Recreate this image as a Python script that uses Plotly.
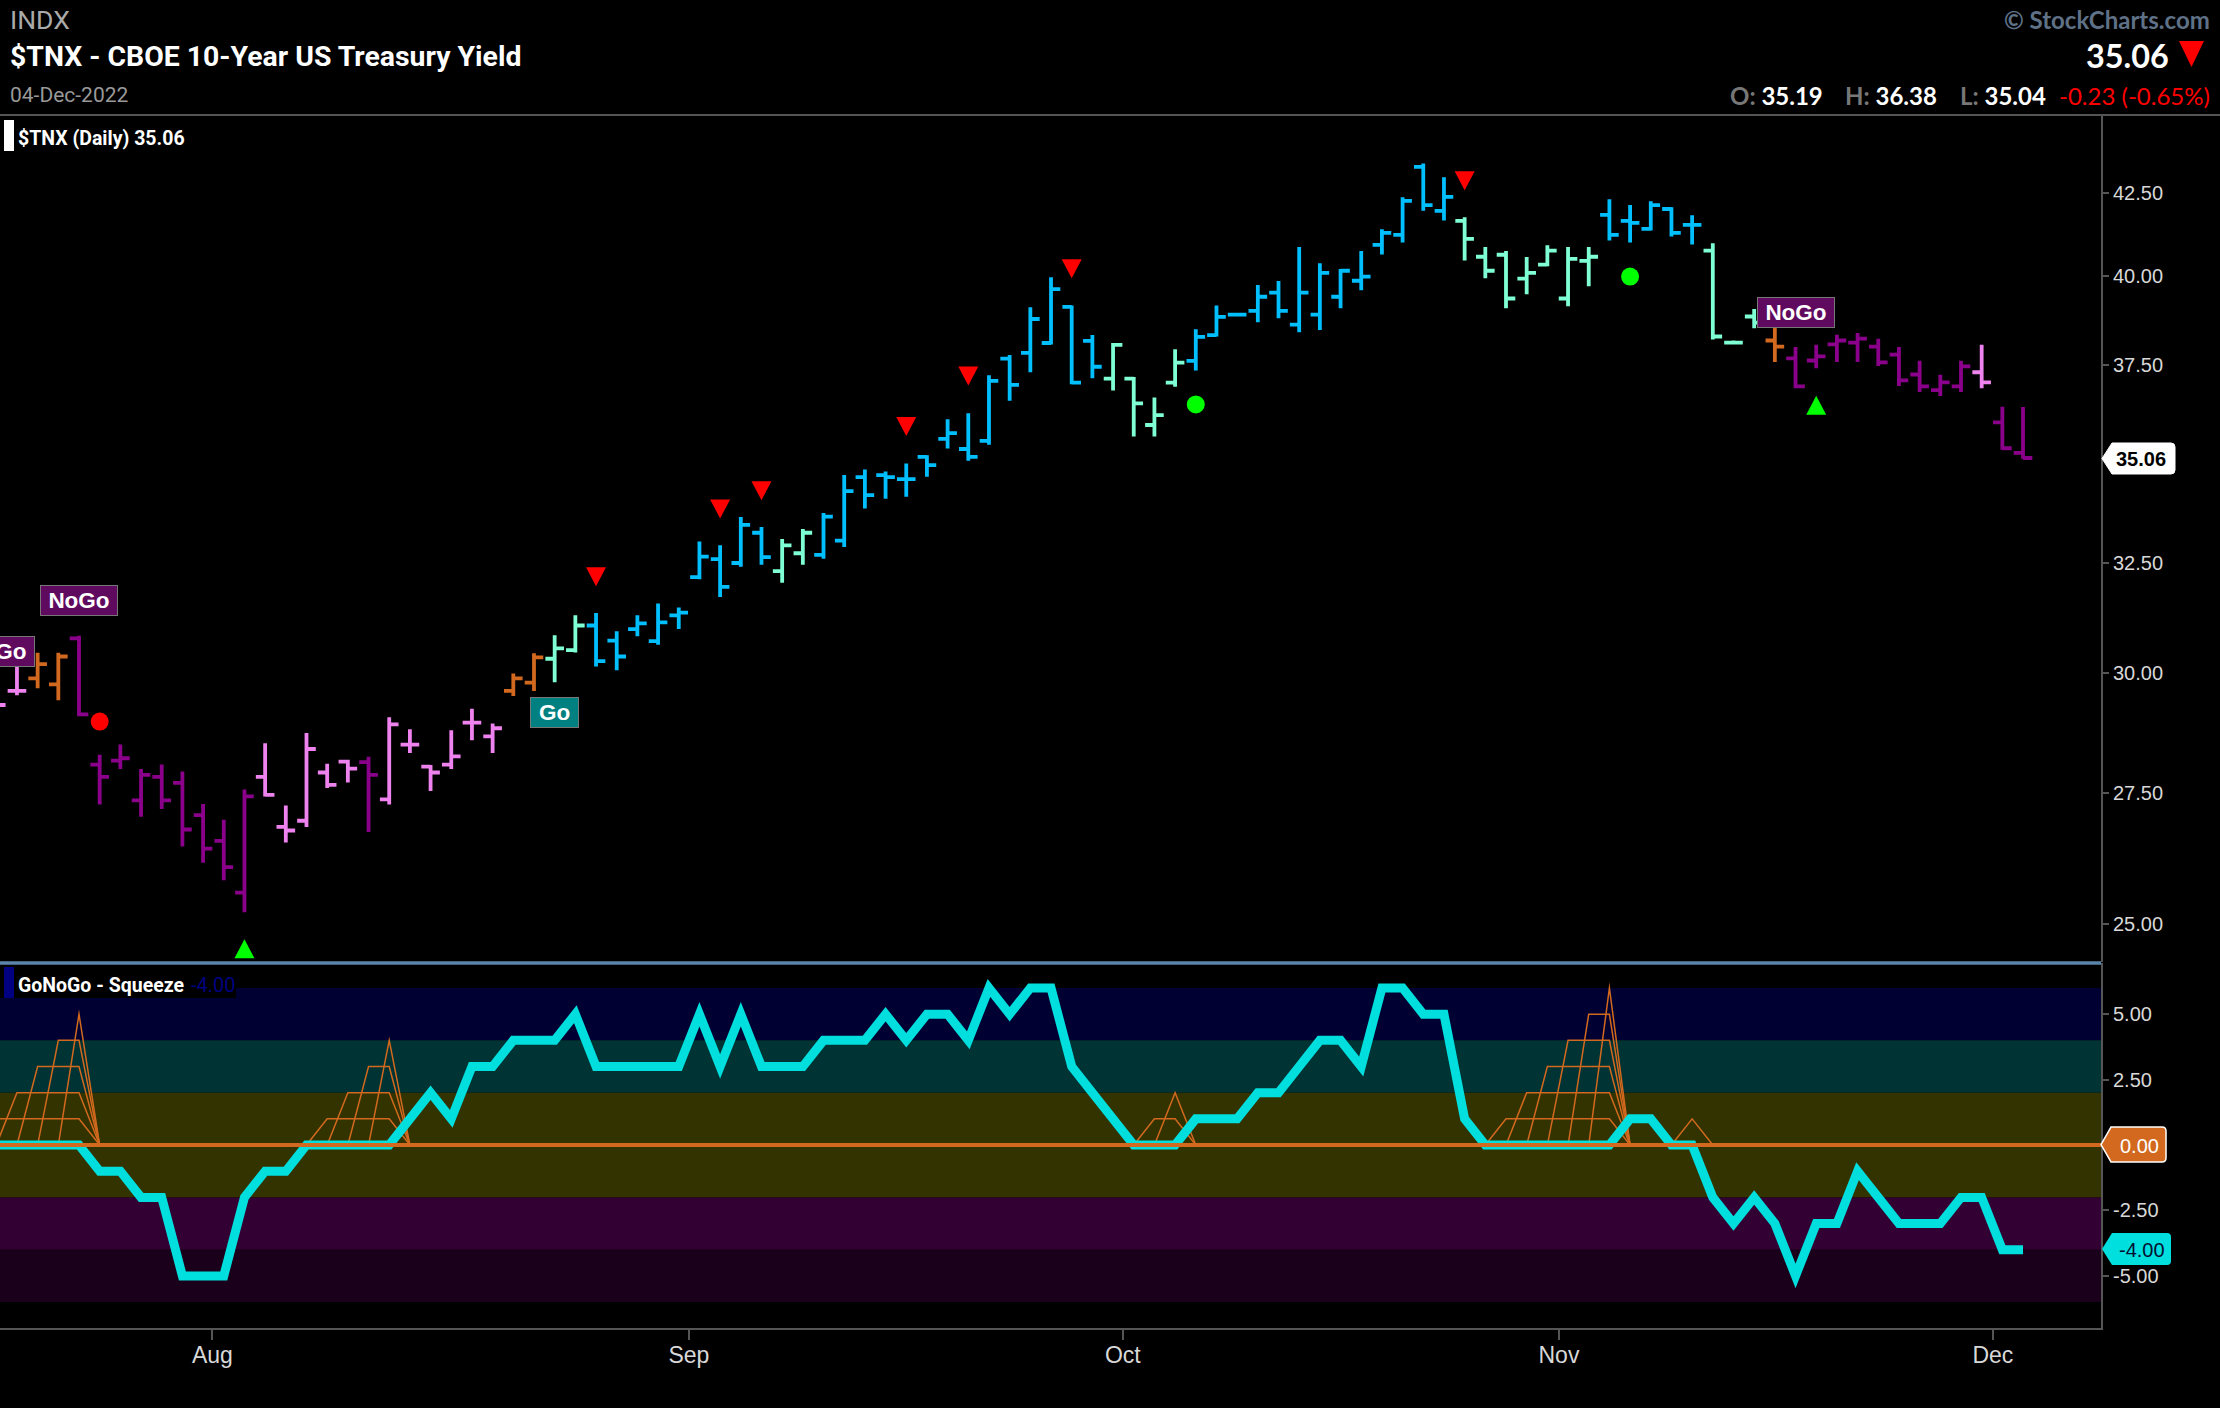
import math
import plotly.graph_objects as go

W = 2220
H = 1408

# daily bars (first bar is cut by the left edge)
bar_open = [29.57, 29.61, 29.88, 29.75, 30.76, 28.07, 28.15, 27.35, 27.82, 27.70,
            27.06, 26.56, 25.58, 27.82, 26.83, 26.95, 27.91, 28.13, 28.12, 27.37,
            28.48, 28.03, 28.07, 28.94, 28.65, 29.61, 29.79, 30.31, 30.50, 31.05,
            30.71, 30.97, 30.70, 31.28, 32.16, 32.58, 32.49, 33.21, 32.30, 32.72,
            32.68, 33.02, 34.58, 34.63, 34.53, 35.09, 35.55, 35.29, 35.50, 37.68,
            37.84, 38.11, 39.12, 38.17, 37.14, 37.14, 35.91, 37.03, 37.62, 38.33,
            38.90, 39.01, 39.53, 38.62, 38.90, 39.41, 39.87, 40.92, 41.22, 43.30,
            41.94, 41.64, 40.57, 40.63, 39.93, 40.34, 39.36, 40.45, 41.82, 41.64,
            41.40, 42.00, 41.52, 40.75, 38.12, 38.85, 38.18, 37.69, 37.63, 38.07,
            38.12, 38.01, 37.79, 37.25, 36.83, 36.93, 37.31, 35.98, 35.19]
bar_high = [29.87, 30.21, 30.44, 30.44, 30.82, 28.27, 28.48, 27.98, 28.07, 27.93,
            27.28, 26.97, 27.57, 28.51, 27.25, 28.72, 28.09, 28.17, 28.23, 29.05,
            28.80, 28.06, 28.78, 29.23, 28.92, 29.99, 30.43, 30.83, 31.28, 31.33,
            30.92, 31.28, 31.55, 31.46, 33.00, 32.91, 33.59, 33.35, 33.06, 33.30,
            33.69, 34.63, 34.77, 34.72, 34.92, 35.13, 36.06, 36.22, 37.23, 37.78,
            39.11, 39.97, 39.16, 38.33, 38.11, 37.18, 36.63, 37.94, 38.49, 39.16,
            38.95, 39.75, 39.86, 40.86, 40.38, 40.21, 40.74, 41.39, 42.36, 43.41,
            42.98, 41.75, 40.86, 40.74, 40.56, 40.91, 40.86, 40.86, 42.30, 42.12,
            42.24, 42.05, 41.81, 40.97, 38.18, 39.06, 38.58, 38.00, 38.06, 38.34,
            38.39, 38.23, 38.00, 37.62, 37.24, 37.62, 38.06, 36.39, 36.38]
bar_low = [29.07, 29.52, 29.67, 29.41, 29.07, 27.27, 27.98, 27.03, 27.18, 26.45,
           26.14, 25.81, 25.22, 27.43, 26.53, 26.83, 27.60, 27.71, 26.73, 27.27,
           28.31, 27.54, 27.98, 28.57, 28.31, 29.50, 29.61, 29.80, 30.45, 30.14,
           30.06, 30.81, 30.62, 30.97, 32.11, 31.70, 32.40, 32.45, 32.03, 32.45,
           32.59, 32.87, 33.80, 34.04, 34.09, 34.59, 35.30, 34.99, 35.40, 36.55,
           37.31, 38.07, 36.99, 37.15, 36.82, 35.61, 35.61, 36.92, 37.36, 38.29,
           38.86, 38.69, 38.80, 38.41, 38.47, 39.08, 39.60, 40.64, 40.99, 41.95,
           41.65, 40.46, 39.94, 39.08, 39.48, 40.29, 39.14, 39.71, 41.05, 40.99,
           41.35, 41.17, 40.93, 38.21, 38.07, 38.52, 37.59, 36.88, 37.42, 37.59,
           37.59, 37.48, 36.94, 36.78, 36.67, 36.78, 36.88, 35.27, 35.04]
bar_close = [29.31, 29.61, 30.19, 30.36, 29.11, 27.82, 28.20, 27.86, 27.35, 26.78,
             26.41, 26.06, 27.43, 27.46, 26.76, 28.39, 27.66, 27.99, 27.86, 28.90,
             28.48, 27.91, 28.24, 28.94, 28.82, 29.88, 30.34, 30.54, 31.05, 30.26,
             30.36, 31.10, 31.12, 31.34, 32.64, 31.93, 33.40, 32.63, 32.91, 33.21,
             33.60, 34.23, 34.13, 34.58, 34.53, 34.88, 35.70, 35.09, 37.08, 36.97,
             38.78, 39.63, 37.03, 37.46, 38.06, 36.48, 36.17, 37.57, 38.28, 38.84,
             38.90, 39.41, 39.01, 39.53, 40.10, 40.16, 39.99, 41.28, 42.25, 42.12,
             42.37, 41.10, 40.16, 39.36, 40.10, 40.75, 40.51, 40.57, 41.22, 41.58,
             42.12, 41.28, 41.52, 38.29, 38.12, 38.68, 38.01, 36.93, 37.74, 38.18,
             38.23, 37.58, 37.09, 36.93, 37.04, 37.47, 37.04, 35.31, 35.06]
# p pink, m purple, o orange, a aqua, b blue
bar_state = list("ppoommmmmmmmmppppp" "mpppppp" "ooaa" "bbbbbbbbb" "aa" "bbbbbbbbbbbbbb"
                 "aaaa" "bbbbbbbbbbbbb" "aaaaaaa" "bbbbb" "aaa" "o" "mmmmmmmmm" "p" "mm")
state_colors = {"p": "#EE82EE", "m": "#8B008B", "o": "#D2691E", "a": "#7FFFD4", "b": "#00BFFF"}

# oscillator and squeeze depth per bar
gonogo_osc = [0, 0, 0, 0, 0, -1, -1, -2, -2, -5, -5, -5, -2, -1, -1, 0, 0, 0, 0, 0,
              1, 2, 1, 3, 3, 4, 4, 4, 5, 3, 3, 3, 3, 3, 5, 3, 5, 3, 3, 3,
              4, 4, 4, 5, 4, 5, 5, 4, 6, 5, 6, 6, 3, 2, 1, 0, 0, 0, 1, 1,
              1, 2, 2, 3, 4, 4, 3, 6, 6, 5, 5, 1, 0, 0, 0, 0, 0, 0, 0, 1,
              1, 0, 0, -2, -3, -2, -3, -5, -3, -3, -1, -2, -3, -3, -3, -2, -2, -4, -4]
squeeze_depth = [1, 2, 3, 4, 5, 0, 0, 0, 0, 0, 0, 0, 0, 0, 0, 0, 1, 2, 3, 4,
                 0, 0, 0, 0, 0, 0, 0, 0, 0, 0, 0, 0, 0, 0, 0, 0, 0, 0, 0, 0,
                 0, 0, 0, 0, 0, 0, 0, 0, 0, 0, 0, 0, 0, 0, 0, 0, 1, 2, 0, 0,
                 0, 0, 0, 0, 0, 0, 0, 0, 0, 0, 0, 0, 0, 1, 2, 3, 4, 5, 6, 0,
                 0, 0, 1, 0, 0, 0, 0, 0, 0, 0, 0, 0, 0, 0, 0, 0, 0, 0, 0]

# signals on the price panel (bar, price)
red_down_bars = [29, 35, 37, 44, 47, 52, 71]
red_down_prices = [32.17, 33.79, 34.24, 35.87, 37.21, 40.22, 42.87]
green_up_bars = [12, 88]
green_up_prices = [24.56, 36.43]
red_dot_bars = [5]
red_dot_prices = [28.96]
green_dot_bars = [58, 79]
green_dot_prices = [36.45, 39.99]

# trend labels
label_texts = ["NoGo", "Go", "NoGo"]
label_bars = [4, 27, 87]
label_prices = [31.62, 29.16, 38.95]
label_colors = ["#5F0A5F", "#008080", "#5F0A5F"]
label_widths = [76, 47, 76]

price_ticks = [25, 27.5, 30, 32.5, 37.5, 40, 42.5]
osc_ticks = [-5, -2.5, 2.5, 5]
month_names = ["Aug", "Sep", "Oct", "Nov", "Dec"]
month_ticks = [10.45, 33.49, 54.47, 75.56, 96.54]

band_edges = [6, 4, 2, -2, -4, -6]
band_colors = ["#000033", "#003333", "#333300", "#330033", "#1A001A"]

AXIS_GREY = "#555555"
TICK_TEXT = "#D8D8D8"
TICK_FONT = "Liberation Sans"
ORANGE = "#D2691E"
CYAN = "#00DEDE"


def px(x):
    return x / W


def py(y):
    return 1 - y / H


def text(x, y, s, size, color, anchor="left", family="Roboto"):
    return dict(xref="paper", yref="paper", x=px(x), y=py(y), text=s, showarrow=False,
                xanchor=anchor, yanchor="middle", font=dict(family=family, size=size, color=color))


def tag_path(x0, x1, y0, y1):
    # price flag pointing at the axis, rounded on the right
    yc = (y0 + y1) / 2
    r = 4

    def p(a, b):
        return f"{px(a):.5f},{py(b):.5f}"
    return (f"M{p(x0, yc)} L{p(x0 + 10, y0)} L{p(x1 - r, y0)} Q{p(x1, y0)} {p(x1, y0 + r)} "
            f"L{p(x1, y1 - r)} Q{p(x1, y1)} {p(x1 - r, y1)} L{p(x0 + 10, y1)} Z")


fig = go.Figure()

bars = list(range(len(bar_close)))
for state, color in state_colors.items():
    idx = [i for i in bars if bar_state[i] == state]
    fig.add_trace(go.Ohlc(
        x=idx,
        open=[bar_open[i] for i in idx],
        high=[bar_high[i] for i in idx],
        low=[bar_low[i] for i in idx],
        close=[bar_close[i] for i in idx],
        increasing=dict(line=dict(color=color, width=3.8)),
        decreasing=dict(line=dict(color=color, width=3.8)),
        tickwidth=0.45,
        hoverinfo="skip",
        showlegend=False,
    ))

fig.add_trace(go.Scatter(x=red_dot_bars, y=red_dot_prices, mode="markers",
                         marker=dict(color="#FF0000", size=18), hoverinfo="skip", showlegend=False))
fig.add_trace(go.Scatter(x=green_dot_bars, y=green_dot_prices, mode="markers",
                         marker=dict(color="#00FF00", size=18), hoverinfo="skip", showlegend=False))

# squeeze ladder, one line per level
for level in range(1, max(squeeze_depth) + 1):
    fig.add_trace(go.Scatter(x=bars, y=[level if d >= level else 0 for d in squeeze_depth],
                             mode="lines", line=dict(color=ORANGE, width=1.5),
                             xaxis="x", yaxis="y2", hoverinfo="skip", showlegend=False))
fig.add_trace(go.Scatter(x=bars, y=gonogo_osc, mode="lines", line=dict(color=CYAN, width=9),
                         xaxis="x", yaxis="y2", hoverinfo="skip", showlegend=False))

shapes = []
for top, bottom, color in zip(band_edges[:-1], band_edges[1:], band_colors):
    shapes.append(dict(type="rect", xref="x domain", yref="y2", x0=0, x1=1, y0=bottom, y1=top,
                       fillcolor=color, line_width=0, layer="below"))
shapes.append(dict(type="line", xref="x domain", yref="y2", x0=0, x1=1, y0=0, y1=0,
                   line=dict(color=ORANGE, width=4), layer="above"))

for b, p in zip(red_down_bars, red_down_prices):
    shapes.append(dict(type="path", xref="x", yref="y", xsizemode="pixel", ysizemode="pixel",
                       xanchor=b, yanchor=p, path="M-10,9.5 L10,9.5 L0,-9.5 Z",
                       fillcolor="#FF0000", line_width=0))
for b, p in zip(green_up_bars, green_up_prices):
    shapes.append(dict(type="path", xref="x", yref="y", xsizemode="pixel", ysizemode="pixel",
                       xanchor=b, yanchor=p, path="M-10,-9.5 L10,-9.5 L0,9.5 Z",
                       fillcolor="#00FF00", line_width=0))

# frame lines
shapes.append(dict(type="line", xref="paper", yref="paper", x0=0, x1=1, y0=py(115), y1=py(115),
                   line=dict(color=AXIS_GREY, width=2)))
shapes.append(dict(type="line", xref="paper", yref="paper", x0=0, x1=px(2101), y0=py(963), y1=py(963),
                   line=dict(color="#5B84AA", width=3.5)))
# legends
shapes.append(dict(type="rect", xref="paper", yref="paper", x0=px(4), x1=px(14), y0=py(151), y1=py(120),
                   fillcolor="#FFFFFF", line_width=0))
shapes.append(dict(type="rect", xref="paper", yref="paper", x0=px(0), x1=px(236), y0=py(998), y1=py(966),
                   fillcolor="#000000", line_width=0))
shapes.append(dict(type="rect", xref="paper", yref="paper", x0=px(4), x1=px(14), y0=py(998), y1=py(967),
                   fillcolor="#000080", line_width=0))
# header arrow
shapes.append(dict(type="path", xref="paper", yref="paper",
                   path=f"M{px(2179):.5f},{py(41):.5f} L{px(2204):.5f},{py(41):.5f} L{px(2191.5):.5f},{py(67):.5f} Z",
                   fillcolor="#FF0000", line_width=0))
# value flags on the right axis
shapes.append(dict(type="path", xref="paper", yref="paper", path=tag_path(2102, 2175, 443, 474),
                   fillcolor="#FFFFFF", line=dict(color="#FFFFFF", width=1)))
shapes.append(dict(type="path", xref="paper", yref="paper", path=tag_path(2101, 2166, 1127, 1162),
                   fillcolor=ORANGE, line=dict(color="#FFFFFF", width=1.5)))
shapes.append(dict(type="path", xref="paper", yref="paper", path=tag_path(2102, 2171, 1233, 1265),
                   fillcolor=CYAN, line_width=0))

annotations = [
    text(8, 19, "INDX", 26.5, "#AAAAAA"),
    text(8, 56, "<b>$TNX - CBOE 10-Year US Treasury Yield</b>", 28.4, "#FFFFFF"),
    text(8, 95, "04-Dec-2022", 21, "#999999"),
    text(16, 138, "<b>$TNX (Daily) 35.06</b>", 19.5, "#FFFFFF"),
    text(2212, 19, "<b>© StockCharts.com</b>", 24, "#5F7186", "right", "Lato"),
    text(2171, 55, "<b>35.06</b>", 32.4, "#FFFFFF", "right", "Lato"),
    text(1825, 96, '<b><span style="color:#777777">O:</span> 35.19</b>', 24, "#FFFFFF", "right", "Lato"),
    text(1939, 96, '<b><span style="color:#777777">H:</span> 36.38</b>', 24, "#FFFFFF", "right", "Lato"),
    text(2048, 96, '<b><span style="color:#777777">L:</span> 35.04</b>', 24, "#FFFFFF", "right", "Lato"),
    text(2212, 96, "-0.23 (-0.65%)", 24, "#FF0000", "right", "Lato"),
    text(16, 985, "<b>GoNoGo - Squeeze</b>", 19.5, "#FFFFFF"),
    text(189, 985, "-4.00", 20, "#000080"),
    text(2141, 459, "<b>35.06</b>", 20, "#000000", "center", TICK_FONT),
    text(2139, 1146, "0.00", 20, "#FFFFFF", "center", TICK_FONT),
    text(2142, 1250, "-4.00", 20, "#001030", "center", TICK_FONT),
]

for s, b, p, c, w in zip(label_texts, label_bars, label_prices, label_colors, label_widths):
    annotations.append(dict(xref="x", yref="y", x=b, y=math.log10(p), text=f"<b>{s}</b>", showarrow=False,
                            xanchor="center", yanchor="middle", width=w, height=29, borderpad=0,
                            bgcolor=c, bordercolor="#777777", borderwidth=1,
                            font=dict(family="Liberation Sans", size=22.5, color="#FFFFFF")))
# same label again, cut by the left edge
annotations.append(dict(xref="paper", yref="paper", x=px(35), y=py(651), text="<b>NoGo</b>", showarrow=False,
                        xanchor="right", yanchor="middle", width=76, height=29, borderpad=0,
                        bgcolor="#5F0A5F", bordercolor="#777777", borderwidth=1,
                        font=dict(family="Liberation Sans", size=22.5, color="#FFFFFF")))

fig.update_layout(
    width=W,
    height=H,
    margin=dict(l=0, r=0, t=0, b=0),
    paper_bgcolor="#000000",
    plot_bgcolor="#000000",
    showlegend=False,
    hovermode=False,
    xaxis=dict(
        domain=[0, px(2101)],
        anchor="y2",
        range=[0.18, 101.77],
        tickmode="array",
        tickvals=month_ticks,
        ticktext=month_names,
        ticks="outside",
        ticklen=10,
        tickcolor=AXIS_GREY,
        tickwidth=2,
        ticklabelstandoff=-5,
        tickfont=dict(family=TICK_FONT, size=23, color=TICK_TEXT),
        showgrid=False,
        zeroline=False,
        showline=True,
        linecolor=AXIS_GREY,
        linewidth=2,
        rangeslider=dict(visible=False),
    ),
    yaxis=dict(
        domain=[py(962), py(115.5)],
        anchor="x",
        side="right",
        type="log",
        range=[1.38607, 1.6527],
        tickmode="array",
        tickvals=price_ticks,
        ticktext=[f"{t:.2f}" for t in price_ticks],
        ticks="outside",
        ticklen=6,
        tickcolor=AXIS_GREY,
        tickwidth=2,
        tickfont=dict(family=TICK_FONT, size=20, color=TICK_TEXT),
        showgrid=False,
        zeroline=False,
        showline=True,
        linecolor=AXIS_GREY,
        linewidth=2,
    ),
    yaxis2=dict(
        domain=[py(1328), py(963)],
        anchor="x",
        side="right",
        range=[-6.99, 6.955],
        tickmode="array",
        tickvals=osc_ticks,
        ticktext=[f"{t:.2f}" for t in osc_ticks],
        ticks="outside",
        ticklen=6,
        tickcolor=AXIS_GREY,
        tickwidth=2,
        tickfont=dict(family=TICK_FONT, size=20, color=TICK_TEXT),
        showgrid=False,
        zeroline=False,
        showline=True,
        linecolor=AXIS_GREY,
        linewidth=2,
    ),
    shapes=shapes,
    annotations=annotations,
)

fig.write_html(
    "out.html",
    config=dict(displayModeBar=False),
    post_script=(
        "document.body.style.margin='0';document.body.style.background='#000';"
        "document.querySelectorAll('.scatterlayer .js-line').forEach(function(p){p.style.strokeMiterlimit='12';});"
    ),
)
